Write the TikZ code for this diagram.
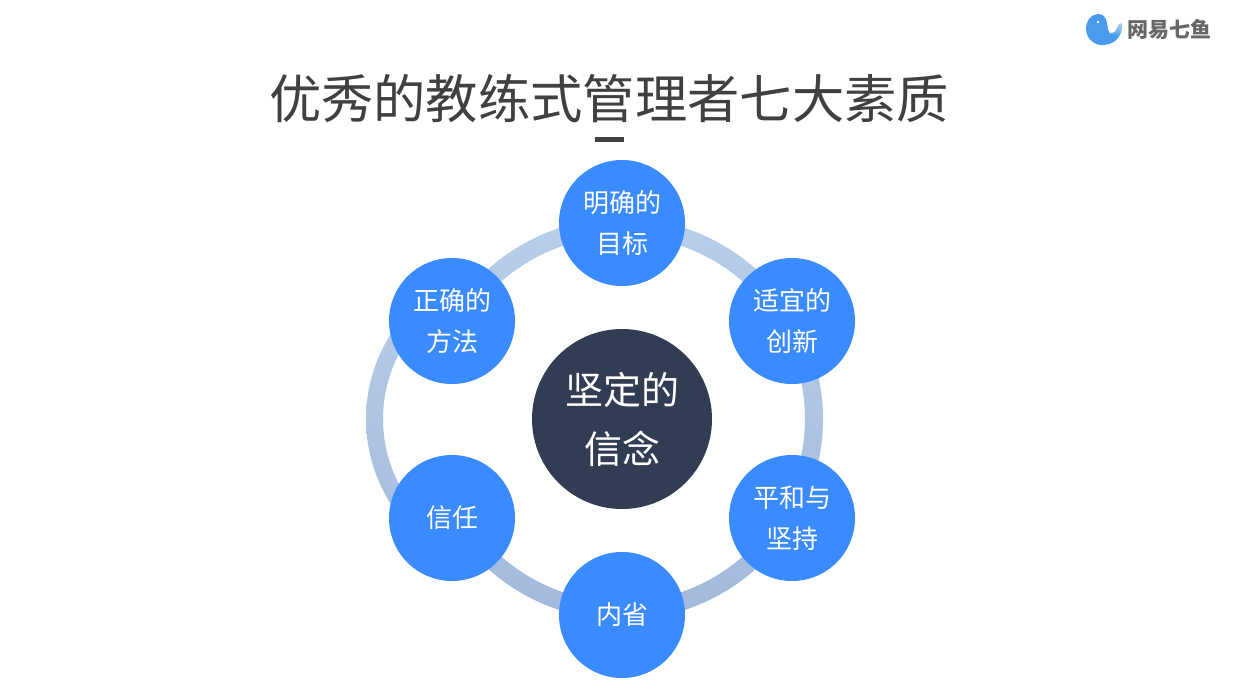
\documentclass[tikz,border=0pt]{standalone}
\usepackage{fontspec}
\newfontfamily\cjk{Noto Sans CJK SC}
\definecolor{blueC}{HTML}{3A8BFF}
\definecolor{darkC}{HTML}{323C52}
\definecolor{titleC}{HTML}{404040}
\definecolor{ringT}{HTML}{B8CFEB}
\definecolor{ringB}{HTML}{A2B9DB}
\definecolor{logoB}{HTML}{4A9BEE}
\definecolor{logoT}{HTML}{B5D3F0}
\definecolor{logoG}{HTML}{666666}
\tikzset{x=1pt,y=-1pt,
 petal/.style={circle,fill=blueC,minimum size=126pt,inner sep=0pt,text=white,align=center,font=\cjk\fontsize{26}{41}\selectfont},
 hub/.style={circle,fill=darkC,minimum size=180pt,inner sep=0pt,text=white,align=center,font=\cjk\fontsize{38}{59}\selectfont}}
\begin{document}
\begin{tikzpicture}
\useasboundingbox (0,0) rectangle (1234,691);
\fill[white] (0,0) rectangle (1234,691);
% ring
\shade[top color=ringT,bottom color=ringB]
 plot[smooth,domain=-150:150,samples=121] ({622+201*cos(\x)},{419+201*sin(\x)})
 -- plot[domain=150:-150,samples=121] ({622+183*cos(\x)},{419+183*sin(\x)}) -- cycle
 plot[domain=137:223,samples=41] ({524+158*cos(\x)},{419+158*sin(\x)})
 -- plot[domain=223:137,samples=41] ({524+141*cos(\x)},{419+141*sin(\x)}) -- cycle;
\node[hub] (hub) at (622,419) {坚定的\\信念};
\node[petal] (p1) at (622,223) {明确的\\目标};
\node[petal] (p2) at (792,321) {适宜的\\创新};
\node[petal] (p3) at (792,518) {平和与\\坚持};
\node[petal] (p4) at (622,615) {内省};
\node[petal] (p5) at (452,518) {信任};
\node[petal] (p6) at (452,321) {正确的\\方法};
\node[text=titleC,font=\cjk\fontsize{52.3}{60}\selectfont,inner sep=0pt] (title) at (609,98.5) {优秀的教练式管理者七大素质};
\fill[titleC] (595,137) rectangle (624,142);
% logo
\shade[top color=logoT,bottom color=logoB,middle color=logoB!70!logoT] (1111,33) .. controls (1115,33) and (1117,29) .. (1118,25) .. controls (1120,22) and (1123,23) .. (1122,26) .. controls (1122,36) and (1116,42) .. (1109,44) -- cycle;
\fill[logoB] (1098,14) .. controls (1091,14) and (1086,21) .. (1086,29) .. controls (1086,39) and (1095,46) .. (1104,45) .. controls (1111,45) and (1117,40) .. (1119,33) .. controls (1116,35) and (1111,36) .. (1109,32) .. controls (1106,27) and (1109,14) .. (1098,14) -- cycle;
\fill[white] (1098,22) circle (1.3);
\node[text=logoG,font=\cjk\bfseries\fontsize{21}{22}\selectfont,inner sep=0pt] (logo) at (1169.5,30) {网易七鱼};
\end{tikzpicture}
\end{document}
